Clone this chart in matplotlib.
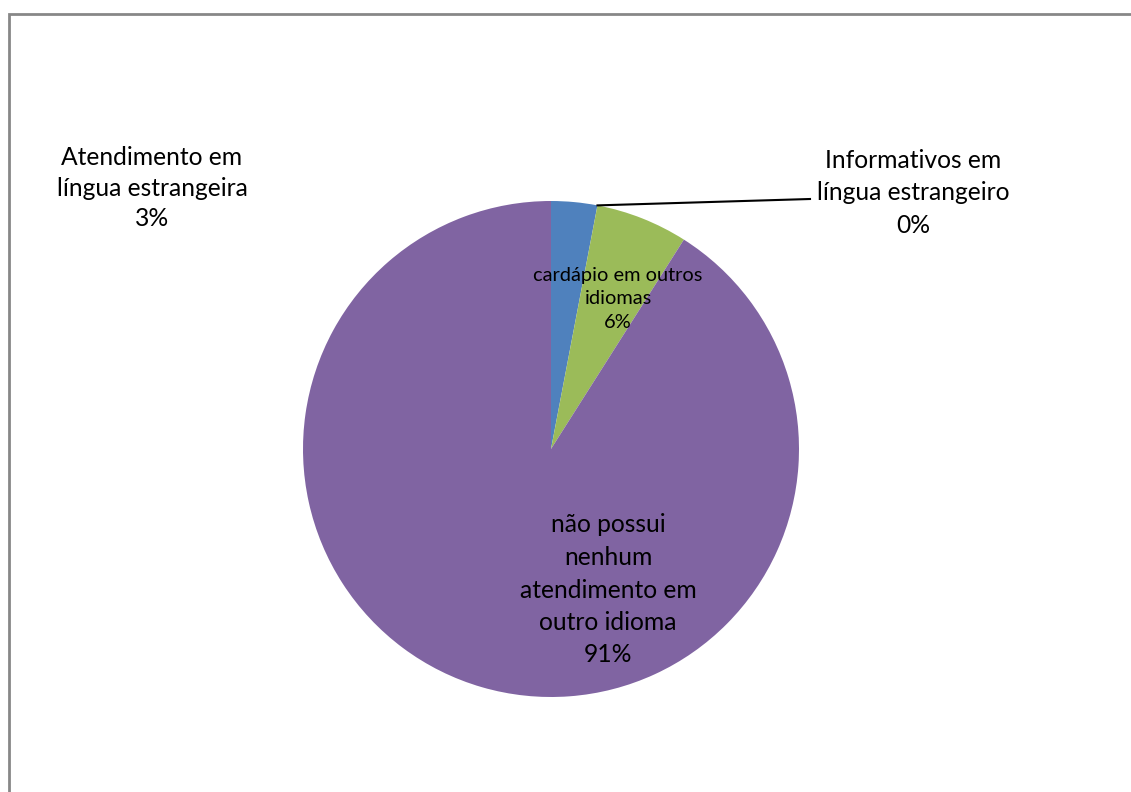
import matplotlib
matplotlib.use("Agg")
import matplotlib.pyplot as plt
import numpy as np
from matplotlib.patches import Rectangle

plt.rcParams['font.family'] = ['Lato', 'DejaVu Sans']

categorias = ['Atendimento em\nlíngua estrangeira', 'Informativos em\nlíngua estrangeiro',
              'cardápio em outros\nidiomas', 'não possui\nnenhum\natendimento em\noutro idioma']
valores = [3, 0, 6, 91]
cores = ['#4F81BD', '#C0504D', '#9BBB59', '#8064A2']

W, H = 1131, 792
fig = plt.figure(figsize=(W / 100, H / 100), dpi=100)

# moldura cinza do gráfico
fig.patches.append(Rectangle((8.5 / W, -0.1), 1.2, 1 - 13.5 / H + 0.1, transform=fig.transFigure,
                             fill=False, edgecolor='#878787', linewidth=2))

cx, cy, r = 551, 449, 248
ax = fig.add_axes([(cx - r) / W, (H - cy - r) / H, 2 * r / W, 2 * r / H])
ax.pie(valores, colors=cores, startangle=90, counterclock=False, radius=1,
       wedgeprops=dict(linewidth=0))
ax.set_xlim(-1, 1)
ax.set_ylim(-1, 1)
ax.set_aspect('equal')
ax.axis('off')

def pos(px, py):
    return (px - cx) / r, (cy - py) / r

total = sum(valores)
rotulos = [f'{c}\n{v / total * 100:.0f}%' for c, v in zip(categorias, valores)]

grande = dict(ha='center', va='center', fontsize=17.7, clip_on=False)
ax.text(*pos(152, 188), rotulos[0], linespacing=1.4, **grande)
ax.text(*pos(913, 193), rotulos[1], linespacing=1.5, **grande)
ax.text(*pos(618, 299), rotulos[2], ha='center', va='center', fontsize=14.4, linespacing=1.5, clip_on=False)
ax.text(*pos(608, 590), rotulos[3], linespacing=1.5, **grande)

# linha de chamada para a fatia de 0%
ang = np.deg2rad(90 - 360 * sum(valores[:1]) / total)
ax.plot([np.cos(ang), pos(810, 199)[0]], [np.sin(ang), pos(810, 199)[1]],
        color='black', linewidth=1.5, clip_on=False)

fig.savefig('out.png', dpi=100)
